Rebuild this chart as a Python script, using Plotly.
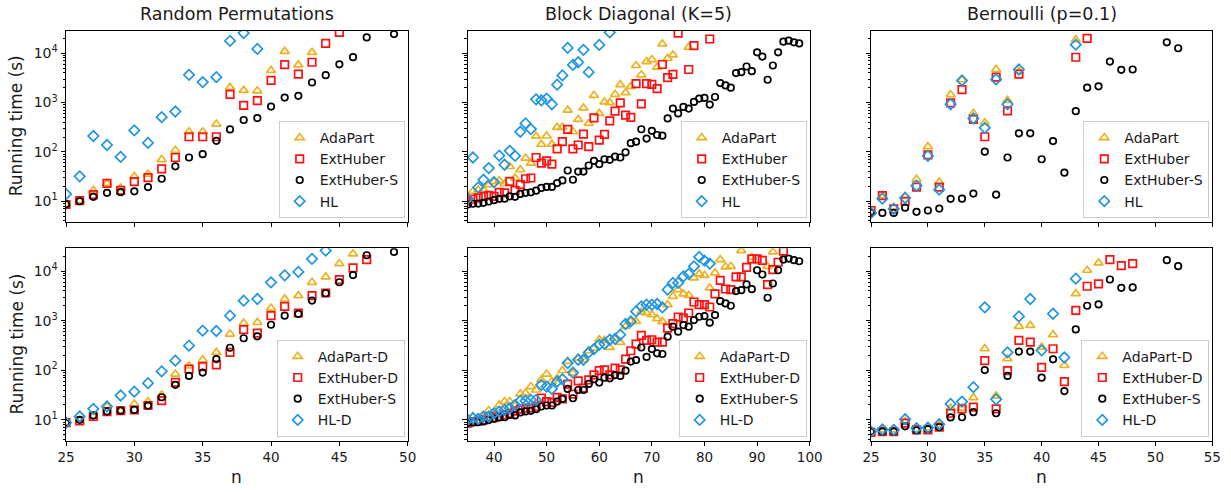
import plotly.graph_objects as go

W, H = 1231, 492

# ---------------- Random Permutations ----------------
rp_ada_n = list(range(25, 44))
rp_ada = [8.7, 10.3, 16.6, 23, 18.6, 32, 35.6, 70, 108, 256, 256, 366, 2031, 1767, 1730, 4470, 10900, 5800, 10400]
rp_ext_n = list(range(25, 46))
rp_ext = [8.6, 10.3, 13.6, 23, 16.6, 25, 30, 45.5, 77, 203, 203, 203, 1468, 880, 1097, 2810, 5890, 3770, 6560, 15800, 26400]
rp_exts_n = list(range(25, 48)) + [49]
rp_exts = [8.7, 10, 12.3, 14.8, 15.3, 15.9, 19.4, 28.6, 51, 77, 90, 168, 285, 443, 485, 829, 1260, 1370, 2550, 3580, 5960, 8300, 20900, 24400]
rp_hl_n = list(range(25, 40))
rp_hl = [14, 32, 210, 138, 79, 273, 152, 506, 659, 3650, 2600, 3270, 17700, 25600, 12200]

rp_adad_n = list(range(25, 47))
rp_adad = [8.8, 9.5, 11.7, 18.6, 15.4, 20.8, 23.4, 32, 84, 123, 163, 229, 538, 897, 920, 1800, 2740, 3200, 5940, 7620, 14200, 22200]
rp_extd_n = list(range(25, 48))
rp_extd = [8.8, 9.5, 11.7, 14.7, 15.4, 15.8, 19.5, 24.5, 57, 106, 119, 129, 229, 658, 563, 1262, 1946, 1429, 3200, 3620, 6730, 11600, 17100]
rp_hld_n = list(range(25, 45))
rp_hld = [8.8, 11.7, 16.7, 18.6, 31, 37, 55, 95, 156, 313, 628, 620, 1262, 2535, 2740, 5940, 8240, 9630, 17600, 25900]

# ---------------- Block Diagonal (K=5) ----------------
bd_exts_n = list(range(35, 99))
bd_exts = [8.6, 8.9, 9.0, 9.3, 9.9, 10.5, 11.2, 11.3, 12.6, 12.3, 14.1, 14.8, 15.2, 16.4, 18.6, 19.5, 19.5, 23.4, 26.5, 42,
           27.3, 40, 40, 53, 66, 56.5, 71, 69, 80, 77, 98, 150, 161, 288, 186, 268, 220, 213, 476, 757,
           601, 815, 757, 1028, 1202, 1240, 912, 1297, 2478, 2228, 2000, 3950, 4130, 5380, 4320, 10400, 8540, 2900, 5630, 10400,
           17100, 17900, 16600, 15800]
bd_ada_n = list(range(35, 75)) + [77]
bd_ada = [12, 15.9, 17, 17.2, 21.7, 25, 26, 22.7, 50.6, 29.6, 43.5, 75, 59, 208, 143, 210, 143, 314, 314, 700,
          256, 455, 778, 378, 1400, 601, 1028, 997, 1468, 2300, 1588, 2130, 5630, 3650, 6780, 7430, 5200, 15400, 7890, 9230,
          13200]
bd_ext_n = list(range(35, 76)) + [77, 78, 81]
bd_ext = [10, 11, 11.7, 12.6, 13.2, 12.6, 15.2, 14.8, 25.2, 16.6, 21.7, 28.6, 29.6, 77, 59, 66, 56.5, 115, 161, 286,
          115, 138, 230, 128, 490, 174, 227, 427, 668, 981, 555, 499, 2410, 937, 2410, 2330, 1914, 5900, 3190, 3715,
          25600, 4680, 14200, 19400]
bd_hl_n = list(range(35, 59)) + [60, 62]
bd_hl = [11.3, 77, 19.1, 27.3, 47, 24.5, 84, 55, 105, 83, 256, 378, 290, 1164, 1110, 1202, 925, 2300, 3540, 12800,
         5800, 6560, 11700, 4130, 14700, 26400]

bd_adad_n = list(range(35, 86)) + [87, 89, 92, 93]
bd_adad = [9.2, 11.7, 10.8, 11.1, 15.4, 13.6, 20, 23.4, 23.4, 20, 33.5, 34.6, 47, 40, 64, 84, 60, 69, 99, 151,
           88, 176, 163, 248, 281, 413, 400, 289, 433, 365, 768, 968, 968, 1500, 1430, 1320, 1097, 968, 2100, 3100,
           4230, 3460, 3240, 7280, 8770, 8220, 4570, 9190, 17100, 12200, 12500, 25900, 19000, 12500, 24400]
bd_extd_n = list(range(35, 96))
bd_extd = [8.6, 9.2, 9.5, 10, 11.7, 11.1, 11.7, 12.6, 13.6, 15, 16.4, 17.2, 17.2, 18.6, 27.4, 23.4, 22.5, 28.3, 26.6, 52.6,
           33, 61, 43.6, 64, 81, 98, 102, 81, 111, 102, 168, 248, 338, 505, 400, 413, 370, 370, 711, 869,
           1186, 1132, 1430, 2380, 2100, 2100, 1890, 3460, 6530, 4360, 4230, 7620, 7620, 11900, 17600, 17600, 16500, 5330, 10700, 15100,
           25200]
bd_hld_n = list(range(35, 82))
bd_hld = [10, 10.8, 10.5, 11.7, 11.7, 13.6, 14.7, 15.9, 17.2, 20, 24.2, 24.2, 25.3, 25.3, 51, 47, 42, 59, 66, 140,
          90, 163, 163, 229, 268, 327, 343, 413, 427, 521, 857, 968, 1540, 1946, 2100, 2100, 2170, 1860, 4230, 5770,
          5770, 7850, 8770, 12500, 19300, 16300, 14200]

# ---------------- Bernoulli (p=0.1) ----------------
be_exts_n = list(range(25, 49)) + [51, 52]
be_exts = [5.8, 5.8, 5.8, 7.4, 6.1, 6.5, 7.1, 11.2, 11.3, 14.3, 101, 13.6, 77, 238, 238, 71, 166, 38, 668, 2000,
           2130, 6780, 4610, 4680, 16600, 12600]
be_ada_n = list(range(25, 39)) + [43]
be_ada = [6.2, 13, 7.6, 12.6, 28, 128, 24.5, 1450, 2900, 601, 390, 4680, 1110, 4270, 18800]
be_ext_n = list(range(25, 39)) + [43, 44]
be_ext = [6.5, 13, 7.0, 10, 19.4, 87, 19.4, 981, 1820, 455, 203, 3270, 677, 3770, 8280, 20000]
be_hl_n = list(range(25, 39)) + [43]
be_hl = [5.8, 11.3, 7, 11.7, 20.7, 83, 17.2, 925, 2810, 476, 308, 2940, 925, 4680, 14900]

be_adad_n = list(range(25, 46))
be_adad = [5.8, 6.3, 6.3, 9.2, 6.4, 6.8, 7.9, 17.2, 17.2, 28, 272, 30.5, 171, 768, 804, 294, 521, 125, 3510, 10400, 14600]
be_extd_n = list(range(25, 49))
be_extd = [5.6, 5.8, 5.8, 8.6, 6.3, 6.3, 7.1, 13.6, 16.7, 18, 156, 16.7, 98, 401, 371, 114, 272, 59, 1620, 4950,
           5510, 17100, 12900, 14200]
be_hld_n = list(range(25, 44))
be_hld = [5.8, 6.4, 6.3, 10.3, 6.8, 7, 8.2, 21, 23.4, 45.7, 1860, 26, 229, 1222, 2740, 252, 1380, 181, 7050]

titles = ["Random Permutations", "Block Diagonal (K=5)", "Bernoulli (p=0.1)"]
x_ranges = [[25, 50], [35, 100], [25, 55]]
x_ticks = [[25, 30, 35, 40, 45, 50], [40, 50, 60, 70, 80, 90, 100], [25, 30, 35, 40, 45, 50, 55]]
y_tickvals = [10, 100, 1000, 10000]
y_ticktext = ["10<sup>1</sup>", "10<sup>2</sup>", "10<sup>3</sup>", "10<sup>4</sup>"]
y_minor = [m * 10 ** k for k in range(0, 5) for m in range(2, 10)]

ORANGE = "#EDB120"
RED = "#FF1010"
BLACK = "#000000"
BLUE = "#1F96E0"

styles = {
    "ada": dict(symbol="triangle-up-open", color=ORANGE, size=8),
    "ext": dict(symbol="square-open", color=RED, size=7.5),
    "exts": dict(symbol="circle-open", color=BLACK, size=6.5),
    "hl": dict(symbol="diamond-open", color=BLUE, size=8),
}

panels = [
    # top row
    [("AdaPart", "ada", rp_ada_n, rp_ada), ("ExtHuber", "ext", rp_ext_n, rp_ext),
     ("ExtHuber-S", "exts", rp_exts_n, rp_exts), ("HL", "hl", rp_hl_n, rp_hl)],
    [("AdaPart", "ada", bd_ada_n, bd_ada), ("ExtHuber", "ext", bd_ext_n, bd_ext),
     ("ExtHuber-S", "exts", bd_exts_n, bd_exts), ("HL", "hl", bd_hl_n, bd_hl)],
    [("AdaPart", "ada", be_ada_n, be_ada), ("ExtHuber", "ext", be_ext_n, be_ext),
     ("ExtHuber-S", "exts", be_exts_n, be_exts), ("HL", "hl", be_hl_n, be_hl)],
    # bottom row
    [("AdaPart-D", "ada", rp_adad_n, rp_adad), ("ExtHuber-D", "ext", rp_extd_n, rp_extd),
     ("ExtHuber-S", "exts", rp_exts_n, rp_exts), ("HL-D", "hl", rp_hld_n, rp_hld)],
    [("AdaPart-D", "ada", bd_adad_n, bd_adad), ("ExtHuber-D", "ext", bd_extd_n, bd_extd),
     ("ExtHuber-S", "exts", bd_exts_n, bd_exts), ("HL-D", "hl", bd_hld_n, bd_hld)],
    [("AdaPart-D", "ada", be_adad_n, be_adad), ("ExtHuber-D", "ext", be_extd_n, be_extd),
     ("ExtHuber-S", "exts", be_exts_n, be_exts), ("HL-D", "hl", be_hld_n, be_hld)],
]

# pixel layout of the axes frames
col_px = [(66, 407.7), (467.7, 809.7), (871, 1212.3)]
row_px = [(30.5, 222), (248.3, 440.7)]

FONT = "DejaVu Sans"
TXT = "#1a1a1a"

fig = go.Figure()
layout = dict(
    width=W, height=H,
    margin=dict(l=0, r=0, t=0, b=0, pad=0, autoexpand=False),
    paper_bgcolor="white", plot_bgcolor="white",
    font=dict(family=FONT, size=13, color=TXT),
    annotations=[],
)

for idx in range(6):
    r, c = divmod(idx, 3)
    k = idx + 1
    sfx = "" if k == 1 else str(k)
    legname = "legend" if k == 1 else "legend%d" % k
    for name, key, xs, ys in panels[idx]:
        st = styles[key]
        fig.add_trace(go.Scatter(
            x=xs, y=ys, mode="markers", name=name,
            xaxis="x" + sfx, yaxis="y" + sfx, legend=legname,
            marker=dict(symbol=st["symbol"], size=st["size"], color=st["color"],
                        line=dict(color=st["color"], width=1.7)),
            cliponaxis=True,
        ))
    x0, x1 = col_px[c]
    y0, y1 = row_px[r]
    layout["xaxis" + sfx] = dict(
        domain=[x0 / W, x1 / W], anchor="y" + sfx, range=x_ranges[c], automargin=False,
        tickmode="array", tickvals=x_ticks[c], showticklabels=(r == 1),
        ticks="outside", ticklen=4, tickwidth=1, tickcolor="black",
        showline=True, mirror=True, linecolor="black", linewidth=1,
        showgrid=False, zeroline=False, tickfont=dict(size=13.5, color=TXT),
    )
    layout["yaxis" + sfx] = dict(
        domain=[1 - y1 / H, 1 - y0 / H], anchor="x" + sfx, type="log", automargin=False,
        range=[0.58, 4.46],
        tickmode="array", tickvals=y_tickvals, ticktext=y_ticktext,
        showticklabels=(c == 0),
        ticks="outside", ticklen=4.5, tickwidth=1, tickcolor="black",
        minor=dict(tickmode="array", tickvals=y_minor, ticks="outside", ticklen=2.5,
                   tickwidth=0.8, tickcolor="black", showgrid=False),
        showline=True, mirror=True, linecolor="black", linewidth=1,
        showgrid=False, zeroline=False, tickfont=dict(size=14, color=TXT),
    )
    layout[legname] = dict(
        x=(x1 - 3) / W, y=1 - (y1 - 4) / H, xanchor="right", yanchor="bottom",
        bgcolor="rgba(255,255,255,0.85)", bordercolor="#cccccc", borderwidth=1,
        font=dict(family=FONT, size=14, color=TXT), itemwidth=30,
        tracegroupgap=0,
    )

for c in range(3):
    x0, x1 = col_px[c]
    layout["annotations"].append(dict(
        text=titles[c], x=(x0 + x1) / 2 / W, y=1 - 14 / H, xref="paper", yref="paper",
        xanchor="center", yanchor="middle", showarrow=False,
        font=dict(family=FONT, size=17.5, color=TXT)))
    layout["annotations"].append(dict(
        text="n", x=(x0 + x1) / 2 / W, y=1 - 477 / H, xref="paper", yref="paper",
        xanchor="center", yanchor="middle", showarrow=False,
        font=dict(family=FONT, size=17, color=TXT)))
for r in range(2):
    y0, y1 = row_px[r]
    layout["annotations"].append(dict(
        text="Running time (s)", x=4 / W, y=1 - (y0 + y1) / 2 / H, xref="paper", yref="paper",
        xanchor="left", yanchor="middle", textangle=-90, showarrow=False,
        font=dict(family=FONT, size=17, color=TXT)))

fig.update_layout(**layout)
fig.write_html(
    "out.html",
    config={"displayModeBar": False},
    post_script="document.body.style.margin='0';document.body.style.padding='0';"
                "document.documentElement.style.overflow='hidden';",
)
